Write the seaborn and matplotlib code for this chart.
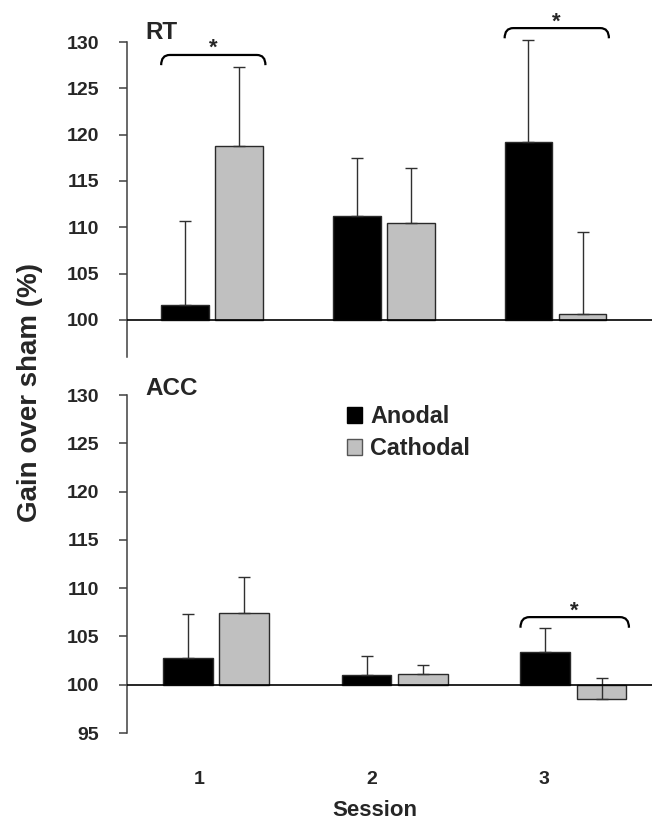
import numpy as np
import pandas as pd
import seaborn as sns
import matplotlib.pyplot as plt
from matplotlib.patches import Patch, PathPatch
from matplotlib.path import Path

sns.set_style("white")
plt.rcParams["font.family"] = ["Liberation Sans", "DejaVu Sans"]
plt.rcParams["font.weight"] = "bold"

BASE = 100
sessions = ["1", "2", "3"]
conditions = ["Anodal", "Cathodal"]

# RT panel
rt_anodal = [101.6, 111.2, 119.2]
rt_cathodal = [118.8, 110.5, 100.6]
rt_anodal_err = [9.1, 6.3, 11.0]
rt_cathodal_err = [8.5, 5.9, 8.9]
rt_sig = ["1", "3"]
rt_sig_level = [128.6, 131.5]

# ACC panel
acc_anodal = [102.8, 101.0, 103.4]
acc_cathodal = [107.4, 101.1, 98.5]
acc_anodal_err = [4.5, 2.0, 2.5]
acc_cathodal_err = [3.8, 0.9, 2.2]
acc_sig = ["3"]
acc_sig_level = [107.0]

palette = {"Anodal": "black", "Cathodal": "#c0c0c0"}
W, H = 652, 819

fig = plt.figure(figsize=(W / 100, H / 100), dpi=100)
ax_rt = fig.add_axes([127 / W, 1 - 357 / H, 1 - 127 / W, (357 - 42) / H])
ax_acc = fig.add_axes([127 / W, 1 - 733 / H, 1 - 127 / W, (733 - 395) / H])


def bracket(ax, x0, x1, y, drop=1.1, rx=0.05):
    verts = [(x0, y - drop), (x0, y), (x0 + rx, y), (x1 - rx, y), (x1, y), (x1, y - drop)]
    codes = [Path.MOVETO, Path.CURVE3, Path.CURVE3, Path.LINETO, Path.CURVE3, Path.CURVE3]
    ax.add_patch(PathPatch(Path(verts, codes), fill=False, lw=1.6, ec="black", clip_on=False))


def draw_panel(ax, anod, cath, a_err, c_err, sig, levels, ylim, xlim, yticks):
    df = pd.DataFrame({
        "Session": sessions * 2,
        "Condition": ["Anodal"] * 3 + ["Cathodal"] * 3,
        "Gain": np.r_[anod, cath] - BASE,
    })
    sns.barplot(data=df, x="Session", y="Gain", hue="Condition", hue_order=conditions,
                palette=palette, bottom=BASE, width=0.63, gap=0.12, errorbar=None,
                edgecolor="#2a2a2a", linewidth=1.0, legend=False, ax=ax, zorder=2)
    bars = ax.patches[:6]
    xs = [p.get_x() + p.get_width() / 2 for p in bars]
    eb = ax.errorbar(xs, np.r_[anod, cath], yerr=[np.zeros(6), np.r_[a_err, c_err]],
                     fmt="none", ecolor="#303030", elinewidth=1.0, capsize=4, capthick=1.0,
                     zorder=3)
    for art in eb.lines[1] + eb.lines[2]:
        art.set_clip_on(False)
    ax.axhline(BASE, color="black", lw=1.2, zorder=4)
    for s, lev in zip(sig, levels):
        i = sessions.index(s)
        a, c = bars[i], bars[3 + i]
        x0 = a.get_x()
        x1 = c.get_x() + c.get_width() + 0.015
        bracket(ax, x0, x1, lev)
        ax.annotate("*", xy=((x0 + x1) / 2, lev), xytext=(0, -3), textcoords="offset points",
                    ha="center", va="bottom", fontsize=16, annotation_clip=False)
    ax.set_ylim(*ylim)
    ax.set_xlim(*xlim)
    ax.set_yticks(yticks)
    ax.set_xlabel("")
    ax.set_ylabel("")
    sns.despine(ax=ax, bottom=True)
    ax.spines["left"].set_color("#404040")
    ax.spines["left"].set_linewidth(1.1)
    ax.tick_params(axis="y", left=True, direction="out", length=6, width=1.1,
                   color="#404040", pad=14, labelsize=14)


draw_panel(ax_rt, rt_anodal, rt_cathodal, rt_anodal_err, rt_cathodal_err,
           rt_sig, rt_sig_level, (96, 130), (-0.495, 2.562), np.arange(100, 131, 5))
ax_rt.set_xticks([])

draw_panel(ax_acc, acc_anodal, acc_cathodal, acc_anodal_err, acc_cathodal_err,
           acc_sig, acc_sig_level, (95, 130), (-0.498, 2.44), np.arange(95, 131, 5))
ax_acc.set_xticks([-0.095, 0.873, 1.835], sessions)
ax_acc.tick_params(axis="x", bottom=False, length=0, pad=27, labelsize=14)

ax_acc.legend(handles=[Patch(facecolor="black", edgecolor="black"),
                       Patch(facecolor="#c0c0c0", edgecolor="#555555")],
              labels=conditions, loc="upper left", bbox_to_anchor=(347 / W, 1 - 405 / H),
              bbox_transform=fig.transFigure, frameon=False, fontsize=16.8,
              handlelength=0.65, handleheight=0.65, handletextpad=0.35, labelspacing=0.4,
              borderpad=0, borderaxespad=0)

fig.text(145 / W, 1 - 39 / H, "RT", fontsize=17.5, va="baseline", ha="left")
fig.text(145 / W, 1 - 395 / H, "ACC", fontsize=17.5, va="baseline", ha="left")
fig.text(30 / W, 1 - 392 / H, "Gain over sham (%)", rotation=90, fontsize=20,
         ha="center", va="center")
fig.text(375 / W, 1 - 810 / H, "Session", fontsize=16, ha="center", va="center")

fig.savefig("out.png", dpi=100)
